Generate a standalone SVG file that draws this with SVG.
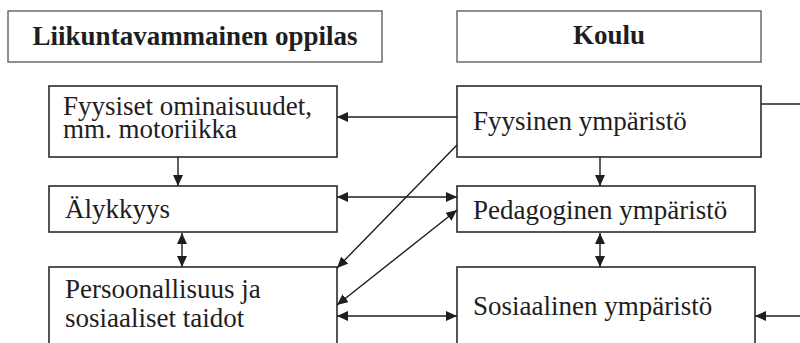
<svg xmlns="http://www.w3.org/2000/svg" width="800" height="343" viewBox="0 0 800 343">
  <style>
    .box { fill: #fff; stroke: #2a2a2a; stroke-width: 1.6; }
    .head { fill: #fff; stroke: #555; stroke-width: 1.3; }
    .t { font-family: 'Liberation Serif', 'Times New Roman', serif; font-size: 27px; fill: #1e1e1e; }
    .tb { font-family: 'Liberation Serif', 'Times New Roman', serif; font-size: 27px; font-weight: bold; text-anchor: middle; fill: #1e1e1e; }
    .c { stroke: #1e1e1e; stroke-width: 1.4; fill: none; }
  </style>
  <defs>
    <marker id="ah" markerUnits="userSpaceOnUse" markerWidth="12" markerHeight="10" refX="11" refY="5" orient="auto-start-reverse">
      <path d="M0,0 L11,5 L0,10 Z" fill="#1e1e1e"/>
    </marker>
  </defs>

  <!-- column headings -->
  <g id="oppilas">
    <rect class="head" x="8" y="11" width="374" height="51"/>
    <text class="tb" x="195" y="45">Liikuntavammainen oppilas</text>
  </g>
  <g id="koulu">
    <rect class="head" x="457" y="11" width="304" height="51"/>
    <text class="tb" x="609" y="44">Koulu</text>
  </g>

  <!-- student side -->
  <g id="fyysiset">
    <rect class="box" x="49" y="86" width="288" height="71"/>
    <text class="t" x="63" y="115">Fyysiset ominaisuudet,</text>
    <text class="t" x="63" y="138">mm. motoriikka</text>
  </g>
  <g id="alykkyys">
    <rect class="box" x="49" y="186" width="288" height="46"/>
    <text class="t" x="65" y="218">Älykkyys</text>
  </g>
  <g id="persoonallisuus">
    <rect class="box" x="49" y="267" width="288" height="90"/>
    <text class="t" x="65" y="298">Persoonallisuus ja</text>
    <text class="t" x="65" y="327">sosiaaliset taidot</text>
  </g>

  <!-- school side -->
  <g id="fyysinen">
    <rect class="box" x="457" y="86" width="304" height="71"/>
    <text class="t" x="473" y="130">Fyysinen ympäristö</text>
  </g>
  <g id="pedagoginen">
    <rect class="box" x="457" y="186" width="298" height="46"/>
    <text class="t" x="473" y="219">Pedagoginen ympäristö</text>
  </g>
  <g id="sosiaalinen">
    <rect class="box" x="457" y="267" width="298" height="90"/>
    <text class="t" x="473" y="315">Sosiaalinen ympäristö</text>
  </g>

  <!-- connectors -->
  <g id="connectors">
    <line class="c" x1="457" y1="117" x2="337" y2="117" marker-end="url(#ah)"/>
    <line class="c" x1="178" y1="157" x2="178" y2="186" marker-end="url(#ah)"/>
    <line class="c" x1="182" y1="233" x2="182" y2="267" marker-start="url(#ah)" marker-end="url(#ah)"/>
    <line class="c" x1="337" y1="197" x2="457" y2="197" marker-start="url(#ah)" marker-end="url(#ah)"/>
    <line class="c" x1="457" y1="145" x2="337" y2="268" marker-end="url(#ah)"/>
    <line class="c" x1="337" y1="305" x2="457" y2="210" marker-start="url(#ah)" marker-end="url(#ah)"/>
    <line class="c" x1="337" y1="316" x2="457" y2="316" marker-start="url(#ah)" marker-end="url(#ah)"/>
    <line class="c" x1="600" y1="157" x2="600" y2="186" marker-end="url(#ah)"/>
    <line class="c" x1="600" y1="233" x2="600" y2="267" marker-start="url(#ah)" marker-end="url(#ah)"/>
    <line class="c" x1="761" y1="104" x2="800" y2="104"/>
    <line class="c" x1="800" y1="316" x2="755" y2="316" marker-end="url(#ah)"/>
  </g>
</svg>
